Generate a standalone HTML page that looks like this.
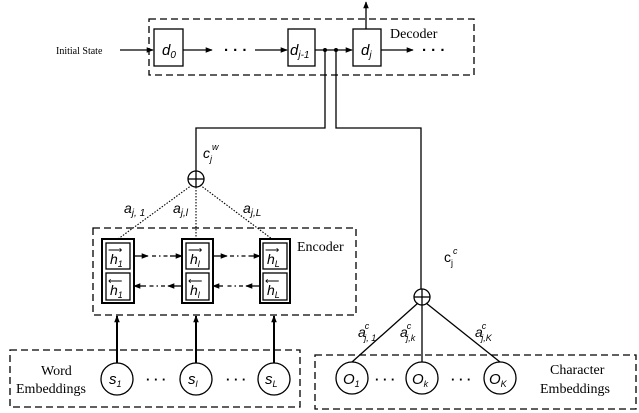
<!DOCTYPE html>
<html><head><style>body{margin:0;background:#fff}svg{display:block}</style></head><body>
<svg width="639" height="413" viewBox="0 0 639 413" xmlns="http://www.w3.org/2000/svg" font-family="Liberation Sans, Arial, sans-serif">
<defs>
<marker id="a" viewBox="0 0 10 10" refX="9" refY="5" markerWidth="7" markerHeight="7" orient="auto-start-reverse" markerUnits="userSpaceOnUse"><path d="M0,1 L10,5 L0,9 z" fill="#000"/></marker>
</defs>
<g fill="none" stroke="#000" stroke-width="1.3">
<rect x="149" y="19" width="325" height="56" stroke-dasharray="7,4"/>
<rect x="154" y="29" width="29" height="37"/>
<rect x="288" y="29" width="27" height="37"/>
<rect x="353" y="29" width="28" height="37"/>
<line x1="120" y1="50" x2="153" y2="50" marker-end="url(#a)"/>
<line x1="183" y1="50" x2="212" y2="50" marker-end="url(#a)"/>
<line x1="255" y1="50" x2="287" y2="50" marker-end="url(#a)"/>
<line x1="315" y1="50" x2="352" y2="50" marker-end="url(#a)"/>
<line x1="381" y1="50" x2="413" y2="50" marker-end="url(#a)"/>
<line x1="366" y1="29" x2="366" y2="2" marker-end="url(#a)"/>
<polyline points="325,50 325,128 196,128 196,171"/>
<polyline points="336,50 336,128 421,128 421,289"/>
<circle cx="196" cy="179" r="8"/>
<line x1="188" y1="179" x2="204" y2="179"/><line x1="196" y1="171" x2="196" y2="187"/>
<circle cx="422" cy="297" r="8"/>
<line x1="414" y1="297" x2="430" y2="297"/><line x1="422" y1="289" x2="422" y2="305"/>
<g stroke-dasharray="1.5,1.5" stroke-width="1.1">
<line x1="192" y1="185" x2="118" y2="239"/>
<line x1="196" y1="187" x2="196" y2="239"/>
<line x1="200" y1="185" x2="272" y2="239"/>
</g>
<line x1="418" y1="303" x2="352" y2="362"/>
<line x1="422" y1="305" x2="422" y2="362"/>
<line x1="426" y1="303" x2="500" y2="362"/>
<rect x="93" y="228" width="263" height="87" stroke-dasharray="7,4"/>
<g stroke-width="2"><rect x="102" y="239" width="32" height="64"/><rect x="182" y="239" width="31" height="64"/><rect x="260" y="239" width="30" height="64"/></g>
<rect x="106" y="243" width="24" height="26"/><rect x="106" y="273" width="24" height="27"/>
<rect x="186" y="243" width="23" height="26"/><rect x="186" y="273" width="23" height="27"/>
<rect x="263" y="243" width="24" height="26"/><rect x="263" y="273" width="24" height="27"/>
<line x1="134" y1="256" x2="148" y2="256" marker-end="url(#a)"/>
<line x1="152" y1="256" x2="170" y2="256" stroke-dasharray="4,3,1.5,3"/>
<line x1="170" y1="256" x2="182" y2="256" marker-end="url(#a)"/>
<line x1="213" y1="256" x2="227" y2="256" marker-end="url(#a)"/>
<line x1="230" y1="256" x2="250" y2="256" stroke-dasharray="4,3,1.5,3"/>
<line x1="250" y1="256" x2="260" y2="256" marker-end="url(#a)"/>
<line x1="182" y1="286" x2="168" y2="286" marker-end="url(#a)"/>
<line x1="165" y1="286" x2="148" y2="286" stroke-dasharray="4,3,1.5,3"/>
<line x1="146" y1="286" x2="134" y2="286" marker-end="url(#a)"/>
<line x1="260" y1="286" x2="246" y2="286" marker-end="url(#a)"/>
<line x1="243" y1="286" x2="225" y2="286" stroke-dasharray="4,3,1.5,3"/>
<line x1="223" y1="286" x2="213" y2="286" marker-end="url(#a)"/>
<rect x="10" y="350" width="290" height="57" stroke-dasharray="7,4"/>
<g stroke-width="2">
<line x1="117" y1="363" x2="117" y2="316" marker-end="url(#a)"/>
<line x1="196" y1="363" x2="196" y2="316" marker-end="url(#a)"/>
<line x1="274" y1="363" x2="274" y2="316" marker-end="url(#a)"/>
</g>
<circle cx="117" cy="379" r="16"/><circle cx="196" cy="379" r="16"/><circle cx="274" cy="379" r="16"/>
<rect x="315" y="355" width="321" height="54" stroke-dasharray="7,4"/>
<circle cx="352" cy="378" r="16"/><circle cx="422" cy="378" r="16"/><circle cx="500" cy="378" r="16"/>
</g>
<g fill="#000">
<circle cx="325" cy="50" r="2"/><circle cx="336" cy="50" r="2"/>
<text x="56" y="54" font-family="Liberation Serif, serif" font-size="10">Initial State</text>
<text x="224" y="55" font-size="15" font-weight="bold">· · ·</text>
<text x="422" y="55" font-size="15" font-weight="bold">· · ·</text>
<text x="390" y="38" font-family="Liberation Serif, serif" font-size="14">Decoder</text>
<text x="162" y="55" font-size="15" font-style="italic">d<tspan font-size="10" dy="3">0</tspan></text>
<text x="290" y="55" font-size="15" font-style="italic">d<tspan font-size="10" dy="3">j-1</tspan></text>
<text x="361" y="55" font-size="15" font-style="italic">d<tspan font-size="10" dy="3">j</tspan></text>
<text x="203" y="158" font-size="14" font-style="italic">c<tspan font-size="9" dy="4">j</tspan><tspan font-size="9" dy="-12">w</tspan></text>
<text x="444" y="262" font-size="14">c<tspan font-size="9" dy="4">j</tspan><tspan font-size="9" dy="-12" font-style="italic">c</tspan></text>
<text x="124" y="213" font-size="14" font-style="italic">a<tspan font-size="10" dy="3">j, 1</tspan></text>
<text x="173" y="213" font-size="14" font-style="italic">a<tspan font-size="10" dy="3">j,l</tspan></text>
<text x="243" y="213" font-size="14" font-style="italic">a<tspan font-size="10" dy="3">j,L</tspan></text>
<text x="297" y="251" font-family="Liberation Serif, serif" font-size="14">Encoder</text>
<g font-size="14" font-style="italic">
<text x="110" y="264">h<tspan font-size="9" dy="3">1</tspan></text>
<text x="110" y="295">h<tspan font-size="9" dy="3">1</tspan></text>
<text x="190" y="264">h<tspan font-size="9" dy="3">l</tspan></text>
<text x="190" y="295">h<tspan font-size="9" dy="3">l</tspan></text>
<text x="267" y="264">h<tspan font-size="9" dy="3">L</tspan></text>
<text x="267" y="295">h<tspan font-size="9" dy="3">L</tspan></text>
</g>
<g font-size="10">
<text x="108" y="253">⟶</text><text x="108" y="284">⟵</text>
<text x="188" y="253">⟶</text><text x="188" y="284">⟵</text>
<text x="265" y="253">⟶</text><text x="265" y="284">⟵</text>
</g>
<text x="41" y="375" font-family="Liberation Serif, serif" font-size="14">Word</text>
<text x="16" y="393" font-family="Liberation Serif, serif" font-size="14">Embeddings</text>
<g font-size="15" font-style="italic">
<text x="109" y="384">s<tspan font-size="9" dy="3">1</tspan></text>
<text x="188" y="384">s<tspan font-size="9" dy="3">l</tspan></text>
<text x="265" y="384">s<tspan font-size="9" dy="3">L</tspan></text>
<text x="343" y="384">O<tspan font-size="9" dy="3">1</tspan></text>
<text x="412" y="384">O<tspan font-size="9" dy="3">k</tspan></text>
<text x="489" y="384">O<tspan font-size="9" dy="3">K</tspan></text>
</g>
<g font-size="13" font-weight="bold">
<text x="146" y="384">· · ·</text>
<text x="226" y="384">· · ·</text>
<text x="375" y="384">· · ·</text>
<text x="451" y="384">· · ·</text>
</g>
<g font-size="14" font-style="italic">
<text x="358" y="337">a<tspan font-size="9" dx="-1" dy="-8">c</tspan><tspan font-size="9" dx="-5" dy="12">j, 1</tspan></text>
<text x="400" y="337">a<tspan font-size="9" dx="-1" dy="-8">c</tspan><tspan font-size="9" dx="-5" dy="12">j,k</tspan></text>
<text x="475" y="337">a<tspan font-size="9" dx="-1" dy="-8">c</tspan><tspan font-size="9" dx="-5" dy="12">j,K</tspan></text>
</g>
<text x="550" y="374" font-family="Liberation Serif, serif" font-size="14">Character</text>
<text x="540" y="393" font-family="Liberation Serif, serif" font-size="14">Embeddings</text>
</g>
</svg>
</body></html>
